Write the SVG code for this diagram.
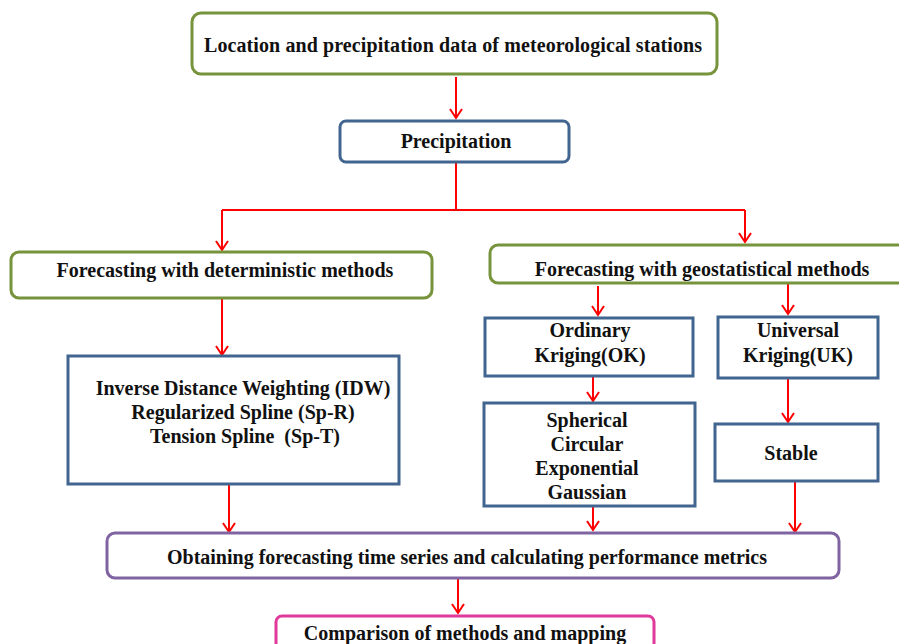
<svg xmlns="http://www.w3.org/2000/svg" width="899" height="644" viewBox="0 0 899 644">
<defs>
<style>
.g{fill:#fff;stroke:#77933C;stroke-width:3}
.b{fill:#fff;stroke:#41658F;stroke-width:3}
.p{fill:#fff;stroke:#8064A2;stroke-width:3}
.m{fill:#fff;stroke:#E0399A;stroke-width:3}
.t{font-family:"Liberation Serif","Times New Roman",serif;font-weight:bold;font-size:20px;fill:#111;text-anchor:middle}
.c line{stroke:#FF0000;stroke-width:2;fill:none}
</style>
<marker id="a" markerWidth="14" markerHeight="14" refX="12" refY="7" orient="auto" markerUnits="userSpaceOnUse" viewBox="0 0 14 14">
<path d="M3,1 L12,7 L3,13" fill="none" stroke="#FF0000" stroke-width="2"/>
</marker>
</defs>
<rect width="899" height="644" fill="#fff"/>
<g class="c">
<line x1="456" y1="77" x2="456" y2="118" marker-end="url(#a)"/>
<line x1="456" y1="162" x2="456" y2="210"/>
<line x1="222" y1="210" x2="745" y2="210"/>
<line x1="222" y1="210" x2="222" y2="250" marker-end="url(#a)"/>
<line x1="745" y1="210" x2="745" y2="242" marker-end="url(#a)"/>
<line x1="222" y1="298" x2="222" y2="355" marker-end="url(#a)"/>
<line x1="598" y1="286" x2="598" y2="315" marker-end="url(#a)"/>
<line x1="788" y1="284" x2="788" y2="314" marker-end="url(#a)"/>
<line x1="593" y1="377" x2="593" y2="401" marker-end="url(#a)"/>
<line x1="788" y1="379" x2="788" y2="422" marker-end="url(#a)"/>
<line x1="229" y1="485" x2="229" y2="532" marker-end="url(#a)"/>
<line x1="593" y1="507" x2="593" y2="530" marker-end="url(#a)"/>
<line x1="795" y1="482" x2="795" y2="532" marker-end="url(#a)"/>
<line x1="458" y1="579" x2="458" y2="613" marker-end="url(#a)"/>
</g>
<g id="n1"><rect class="g" x="192" y="13" width="525" height="61" rx="9"/><text class="t" x="453" y="52" textLength="498" lengthAdjust="spacing">Location and precipitation data of meteorological stations</text></g>
<g id="n2"><rect class="b" x="340" y="121" width="229" height="41" rx="6"/><text class="t" x="456" y="148">Precipitation</text></g>
<g id="n3"><rect class="g" x="11" y="252" width="421" height="46" rx="8"/><text class="t" x="225" y="277">Forecasting with deterministic methods</text></g>
<g id="n4"><rect class="g" x="490" y="245" width="420" height="38" rx="8"/><text class="t" x="702" y="276">Forecasting with geostatistical methods</text></g>
<g id="n5"><rect class="b" x="68" y="356" width="331" height="128"/><text class="t" x="243" y="395">Inverse Distance Weighting (IDW)</text><text class="t" x="243" y="419">Regularized Spline (Sp-R)</text><text class="t" x="245" y="443" xml:space="preserve">Tension Spline  (Sp-T)</text></g>
<g id="n6"><rect class="b" x="485" y="318" width="208" height="58"/><text class="t" x="590" y="337">Ordinary</text><text class="t" x="590" y="362">Kriging(OK)</text></g>
<g id="n7"><rect class="b" x="718" y="317" width="160" height="61"/><text class="t" x="798" y="337">Universal</text><text class="t" x="798" y="362">Kriging(UK)</text></g>
<g id="n8"><rect class="b" x="484" y="403" width="211" height="103"/><text class="t" x="587" y="427">Spherical</text><text class="t" x="587" y="451">Circular</text><text class="t" x="587" y="475">Exponential</text><text class="t" x="587" y="499">Gaussian</text></g>
<g id="n9"><rect class="b" x="715" y="424" width="163" height="57"/><text class="t" x="791" y="460">Stable</text></g>
<g id="n10"><rect class="p" x="107" y="533" width="732" height="45" rx="8"/><text class="t" x="467" y="564">Obtaining forecasting time series and calculating performance metrics</text></g>
<g id="n11"><rect class="m" x="276" y="616" width="378" height="40" rx="6"/><text class="t" x="465" y="640">Comparison of methods and mapping</text></g>
</svg>
